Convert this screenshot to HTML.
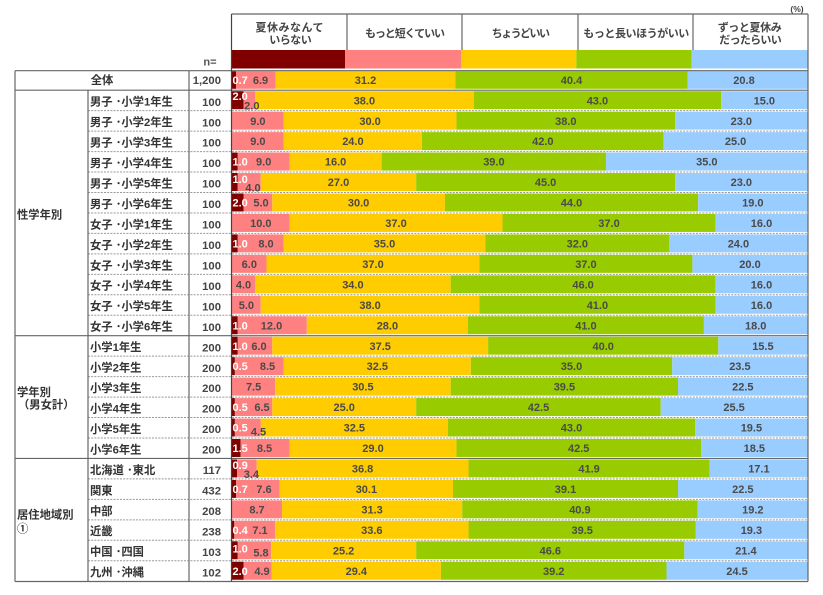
<!DOCTYPE html>
<html><head><meta charset="utf-8"><style>
html,body{margin:0;padding:0;background:#fff;}
body{width:823px;height:595px;overflow:hidden;}
svg{display:block;}
.t{font-family:"Liberation Sans","Noto Sans CJK JP",sans-serif;font-weight:bold;}
.h{font-size:11px;fill:#444;text-anchor:middle;}
.l{font-size:11.3px;fill:#333;}
.n{font-size:11.3px;fill:#444;text-anchor:end;}
.v{font-size:11px;fill:#4a4a4a;text-anchor:middle;}
.w{font-size:11px;fill:#fff;text-anchor:start;}
.d{fill:#800000}.p{fill:#ff8080}.y{fill:#ffcc00}.g{fill:#99cc00}.b{fill:#99ccff}
.s{stroke:#666;stroke-width:1.2;fill:none}
.dt{stroke:#999;stroke-width:1;stroke-dasharray:2 1.2;fill:none}
</style></head><body>
<svg width="823" height="595" viewBox="0 0 823 595" xmlns="http://www.w3.org/2000/svg">
<rect x="0" y="0" width="823" height="595" fill="#fff"/>
<!-- header -->
<text class="t" x="797" y="12" style="font-size:8.5px;fill:#444;text-anchor:middle">(%)</text>
<rect class="d" x="232" y="50" width="113" height="18.5"/>
<rect class="p" x="345" y="50" width="116" height="18.5"/>
<rect class="y" x="461" y="50" width="115.3" height="18.5"/>
<rect class="g" x="576.3" y="50" width="115.4" height="18.5"/>
<rect class="b" x="691.7" y="50" width="115.8" height="18.5"/>
<g class="t h">
<text x="289.5" y="31" textLength="68" lengthAdjust="spacing">夏休みなんて</text>
<text x="290.5" y="43.4" textLength="42.4" lengthAdjust="spacing">いらない</text>
<text x="405" y="37" textLength="80" lengthAdjust="spacing">もっと短くていい</text>
<text x="520.8" y="37" textLength="58.3" lengthAdjust="spacing">ちょうどいい</text>
<text x="636.3" y="37" textLength="106" lengthAdjust="spacing">もっと長いほうがいい</text>
<text x="749.7" y="31" textLength="64" lengthAdjust="spacing">ずっと夏休み</text>
<text x="750.5" y="43.4" textLength="62.4" lengthAdjust="spacing">だったらいい</text>
</g>
<text class="t" x="210" y="65.5" style="font-size:11px;fill:#555;text-anchor:middle">n=</text>

<!-- bars -->
<g transform="translate(0,70.7)">
<rect class="d" x="232" y="0.5" width="4.03" height="17.6"/><rect class="p" x="236.03" y="0.5" width="39.71" height="17.6"/><rect class="y" x="275.74" y="0.5" width="179.56" height="17.6"/><rect class="g" x="455.3" y="0.5" width="232.5" height="17.6"/><rect class="b" x="687.8" y="0.5" width="119.7" height="17.6"/>
<text class="t w" x="232.5" y="13.4">0.7</text><text class="t v" x="260.5" y="13.4">6.9</text><text class="t v" x="365.5" y="13.4">31.2</text><text class="t v" x="571.5" y="13.4">40.4</text><text class="t v" x="744" y="13.4">20.8</text>
</g>
<g transform="translate(0,90.7)">
<rect class="d" x="232" y="0.5" width="11.51" height="18"/><rect class="p" x="243.51" y="0.5" width="11.51" height="18"/><rect class="y" x="255.02" y="0.5" width="218.69" height="18"/><rect class="g" x="473.71" y="0.5" width="247.47" height="18"/><rect class="b" x="721.18" y="0.5" width="86.32" height="18"/>
<text class="t w" x="232.5" y="9.3">2.0</text><text class="t v" x="251.8" y="18.8">2.0</text><text class="t v" x="364.4" y="13.6">38.0</text><text class="t v" x="597.4" y="13.6">43.0</text><text class="t v" x="764.3" y="13.6">15.0</text>
</g>
<g transform="translate(0,111.16)">
<rect class="p" x="232" y="0.5" width="51.8" height="18"/><rect class="y" x="283.8" y="0.5" width="172.65" height="18"/><rect class="g" x="456.45" y="0.5" width="218.69" height="18"/><rect class="b" x="675.14" y="0.5" width="132.36" height="18"/>
<text class="t v" x="257.9" y="13.6">9.0</text><text class="t v" x="370.1" y="13.6">30.0</text><text class="t v" x="565.8" y="13.6">38.0</text><text class="t v" x="741.3" y="13.6">23.0</text>
</g>
<g transform="translate(0,131.62)">
<rect class="p" x="232" y="0.5" width="51.8" height="18"/><rect class="y" x="283.8" y="0.5" width="138.12" height="18"/><rect class="g" x="421.92" y="0.5" width="241.71" height="18"/><rect class="b" x="663.63" y="0.5" width="143.87" height="18"/>
<text class="t v" x="257.9" y="13.6">9.0</text><text class="t v" x="352.9" y="13.6">24.0</text><text class="t v" x="542.8" y="13.6">42.0</text><text class="t v" x="735.6" y="13.6">25.0</text>
</g>
<g transform="translate(0,152.07)">
<rect class="d" x="232" y="0.5" width="5.76" height="18"/><rect class="p" x="237.76" y="0.5" width="51.8" height="18"/><rect class="y" x="289.55" y="0.5" width="92.08" height="18"/><rect class="g" x="381.63" y="0.5" width="224.45" height="18"/><rect class="b" x="606.08" y="0.5" width="201.42" height="18"/>
<text class="t w" x="232.5" y="13.6">1.0</text><text class="t v" x="263.7" y="13.6">9.0</text><text class="t v" x="335.6" y="13.6">16.0</text><text class="t v" x="493.9" y="13.6">39.0</text><text class="t v" x="706.8" y="13.6">35.0</text>
</g>
<g transform="translate(0,172.53)">
<rect class="d" x="232" y="0.5" width="5.76" height="18"/><rect class="p" x="237.76" y="0.5" width="23.02" height="18"/><rect class="y" x="260.78" y="0.5" width="155.39" height="18"/><rect class="g" x="416.16" y="0.5" width="258.98" height="18"/><rect class="b" x="675.14" y="0.5" width="132.36" height="18"/>
<text class="t w" x="232.5" y="10.3">1.0</text><text class="t v" x="253" y="19">4.0</text><text class="t v" x="338.5" y="13.6">27.0</text><text class="t v" x="545.6" y="13.6">45.0</text><text class="t v" x="741.3" y="13.6">23.0</text>
</g>
<g transform="translate(0,192.99)">
<rect class="d" x="232" y="0.5" width="11.51" height="18"/><rect class="p" x="243.51" y="0.5" width="28.78" height="18"/><rect class="y" x="272.29" y="0.5" width="172.65" height="18"/><rect class="g" x="444.94" y="0.5" width="253.22" height="18"/><rect class="b" x="698.16" y="0.5" width="109.34" height="18"/>
<text class="t w" x="232.5" y="13.6">2.0</text><text class="t v" x="261" y="13.6">5.0</text><text class="t v" x="358.6" y="13.6">30.0</text><text class="t v" x="571.5" y="13.6">44.0</text><text class="t v" x="752.8" y="13.6">19.0</text>
</g>
<g transform="translate(0,213.45)">
<rect class="p" x="232" y="0.5" width="57.55" height="18"/><rect class="y" x="289.55" y="0.5" width="212.94" height="18"/><rect class="g" x="502.49" y="0.5" width="212.94" height="18"/><rect class="b" x="715.43" y="0.5" width="92.07" height="18"/>
<text class="t v" x="260.8" y="13.6">10.0</text><text class="t v" x="396" y="13.6">37.0</text><text class="t v" x="609" y="13.6">37.0</text><text class="t v" x="761.5" y="13.6">16.0</text>
</g>
<g transform="translate(0,233.91)">
<rect class="d" x="232" y="0.5" width="5.76" height="18"/><rect class="p" x="237.76" y="0.5" width="46.04" height="18"/><rect class="y" x="283.8" y="0.5" width="201.43" height="18"/><rect class="g" x="485.23" y="0.5" width="184.16" height="18"/><rect class="b" x="669.39" y="0.5" width="138.11" height="18"/>
<text class="t w" x="232.5" y="13.6">1.0</text><text class="t v" x="266" y="13.6">8.0</text><text class="t v" x="384.5" y="13.6">35.0</text><text class="t v" x="577.3" y="13.6">32.0</text><text class="t v" x="738.4" y="13.6">24.0</text>
</g>
<g transform="translate(0,254.36)">
<rect class="p" x="232" y="0.5" width="34.53" height="18"/><rect class="y" x="266.53" y="0.5" width="212.94" height="18"/><rect class="g" x="479.47" y="0.5" width="212.94" height="18"/><rect class="b" x="692.41" y="0.5" width="115.09" height="18"/>
<text class="t v" x="249.3" y="13.6">6.0</text><text class="t v" x="373" y="13.6">37.0</text><text class="t v" x="585.9" y="13.6">37.0</text><text class="t v" x="750" y="13.6">20.0</text>
</g>
<g transform="translate(0,274.82)">
<rect class="p" x="232" y="0.5" width="23.02" height="18"/><rect class="y" x="255.02" y="0.5" width="195.67" height="18"/><rect class="g" x="450.69" y="0.5" width="264.73" height="18"/><rect class="b" x="715.42" y="0.5" width="92.08" height="18"/>
<text class="t v" x="243.5" y="13.6">4.0</text><text class="t v" x="352.9" y="13.6">34.0</text><text class="t v" x="583.1" y="13.6">46.0</text><text class="t v" x="761.5" y="13.6">16.0</text>
</g>
<g transform="translate(0,295.28)">
<rect class="p" x="232" y="0.5" width="28.78" height="18"/><rect class="y" x="260.78" y="0.5" width="218.69" height="18"/><rect class="g" x="479.47" y="0.5" width="235.96" height="18"/><rect class="b" x="715.43" y="0.5" width="92.07" height="18"/>
<text class="t v" x="246.4" y="13.6">5.0</text><text class="t v" x="370.1" y="13.6">38.0</text><text class="t v" x="597.4" y="13.6">41.0</text><text class="t v" x="761.5" y="13.6">16.0</text>
</g>
<g transform="translate(0,315.74)">
<rect class="d" x="232" y="0.5" width="5.76" height="18"/><rect class="p" x="237.76" y="0.5" width="69.06" height="18"/><rect class="y" x="306.82" y="0.5" width="161.14" height="18"/><rect class="g" x="467.96" y="0.5" width="235.96" height="18"/><rect class="b" x="703.92" y="0.5" width="103.58" height="18"/>
<text class="t w" x="232.5" y="13.6">1.0</text><text class="t v" x="271.5" y="13.6">12.0</text><text class="t v" x="387.4" y="13.6">28.0</text><text class="t v" x="585.9" y="13.6">41.0</text><text class="t v" x="755.7" y="13.6">18.0</text>
</g>
<g transform="translate(0,336.2)">
<rect class="d" x="232" y="0.5" width="5.76" height="18"/><rect class="p" x="237.76" y="0.5" width="34.53" height="18"/><rect class="y" x="272.29" y="0.5" width="215.81" height="18"/><rect class="g" x="488.1" y="0.5" width="230.2" height="18"/><rect class="b" x="718.3" y="0.5" width="89.2" height="18"/>
<text class="t w" x="232.5" y="13.6">1.0</text><text class="t v" x="259" y="13.6">6.0</text><text class="t v" x="380.2" y="13.6">37.5</text><text class="t v" x="603.2" y="13.6">40.0</text><text class="t v" x="762.9" y="13.6">15.5</text>
</g>
<g transform="translate(0,356.65)">
<rect class="d" x="232" y="0.5" width="2.88" height="18"/><rect class="p" x="234.88" y="0.5" width="48.92" height="18"/><rect class="y" x="283.8" y="0.5" width="187.04" height="18"/><rect class="g" x="470.84" y="0.5" width="201.43" height="18"/><rect class="b" x="672.27" y="0.5" width="135.23" height="18"/>
<text class="t w" x="232.5" y="13.6">0.5</text><text class="t v" x="267.5" y="13.6">8.5</text><text class="t v" x="377.3" y="13.6">32.5</text><text class="t v" x="571.5" y="13.6">35.0</text><text class="t v" x="739.9" y="13.6">23.5</text>
</g>
<g transform="translate(0,377.11)">
<rect class="p" x="232" y="0.5" width="43.16" height="18"/><rect class="y" x="275.16" y="0.5" width="175.53" height="18"/><rect class="g" x="450.69" y="0.5" width="227.32" height="18"/><rect class="b" x="678.01" y="0.5" width="129.49" height="18"/>
<text class="t v" x="253.6" y="13.6">7.5</text><text class="t v" x="362.9" y="13.6">30.5</text><text class="t v" x="564.4" y="13.6">39.5</text><text class="t v" x="742.8" y="13.6">22.5</text>
</g>
<g transform="translate(0,397.57)">
<rect class="d" x="232" y="0.5" width="2.88" height="18"/><rect class="p" x="234.88" y="0.5" width="37.41" height="18"/><rect class="y" x="272.29" y="0.5" width="143.88" height="18"/><rect class="g" x="416.17" y="0.5" width="244.59" height="18"/><rect class="b" x="660.76" y="0.5" width="146.74" height="18"/>
<text class="t w" x="232.5" y="13.6">0.5</text><text class="t v" x="262" y="13.6">6.5</text><text class="t v" x="344.2" y="13.6">25.0</text><text class="t v" x="538.5" y="13.6">42.5</text><text class="t v" x="734.1" y="13.6">25.5</text>
</g>
<g transform="translate(0,418.03)">
<rect class="d" x="232" y="0.5" width="2.88" height="18"/><rect class="p" x="234.88" y="0.5" width="25.9" height="18"/><rect class="y" x="260.78" y="0.5" width="187.04" height="18"/><rect class="g" x="447.82" y="0.5" width="247.47" height="18"/><rect class="b" x="695.29" y="0.5" width="112.21" height="18"/>
<text class="t w" x="232.5" y="13.6">0.5</text><text class="t v" x="258.5" y="17.6">4.5</text><text class="t v" x="354.3" y="13.6">32.5</text><text class="t v" x="571.5" y="13.6">43.0</text><text class="t v" x="751.4" y="13.6">19.5</text>
</g>
<g transform="translate(0,438.49)">
<rect class="d" x="232" y="0.5" width="8.63" height="18"/><rect class="p" x="240.63" y="0.5" width="48.92" height="18"/><rect class="y" x="289.55" y="0.5" width="166.9" height="18"/><rect class="g" x="456.45" y="0.5" width="244.59" height="18"/><rect class="b" x="701.04" y="0.5" width="106.46" height="18"/>
<text class="t w" x="232.5" y="13.6">1.5</text><text class="t v" x="264.5" y="13.6">8.5</text><text class="t v" x="373" y="13.6">29.0</text><text class="t v" x="578.7" y="13.6">42.5</text><text class="t v" x="754.3" y="13.6">18.5</text>
</g>
<g transform="translate(0,458.94)">
<rect class="d" x="232" y="0.5" width="5.18" height="18"/><rect class="p" x="237.18" y="0.5" width="19.57" height="18"/><rect class="y" x="256.75" y="0.5" width="211.78" height="18"/><rect class="g" x="468.53" y="0.5" width="241.13" height="18"/><rect class="b" x="709.66" y="0.5" width="97.84" height="18"/>
<text class="t w" x="232.5" y="10.3">0.9</text><text class="t v" x="251.4" y="19.2">3.4</text><text class="t v" x="362.6" y="13.6">36.8</text><text class="t v" x="589.1" y="13.6">41.9</text><text class="t v" x="758.9" y="13.6">17.1</text>
</g>
<g transform="translate(0,479.4)">
<rect class="d" x="232" y="0.5" width="4.03" height="18"/><rect class="p" x="236.03" y="0.5" width="43.74" height="18"/><rect class="y" x="279.77" y="0.5" width="173.23" height="18"/><rect class="g" x="453" y="0.5" width="225.02" height="18"/><rect class="b" x="678.02" y="0.5" width="129.48" height="18"/>
<text class="t w" x="232.5" y="13.6">0.7</text><text class="t v" x="264" y="13.6">7.6</text><text class="t v" x="366.4" y="13.6">30.1</text><text class="t v" x="565.5" y="13.6">39.1</text><text class="t v" x="742.8" y="13.6">22.5</text>
</g>
<g transform="translate(0,499.86)">
<rect class="p" x="232" y="0.5" width="50.07" height="18"/><rect class="y" x="282.07" y="0.5" width="180.13" height="18"/><rect class="g" x="462.2" y="0.5" width="235.38" height="18"/><rect class="b" x="697.58" y="0.5" width="109.92" height="18"/>
<text class="t v" x="257" y="13.6">8.7</text><text class="t v" x="372.1" y="13.6">31.3</text><text class="t v" x="579.9" y="13.6">40.9</text><text class="t v" x="752.8" y="13.6">19.2</text>
</g>
<g transform="translate(0,520.32)">
<rect class="d" x="232" y="0.5" width="2.3" height="18"/><rect class="p" x="234.3" y="0.5" width="40.86" height="18"/><rect class="y" x="275.16" y="0.5" width="193.37" height="18"/><rect class="g" x="468.53" y="0.5" width="227.32" height="18"/><rect class="b" x="695.85" y="0.5" width="111.65" height="18"/>
<text class="t w" x="232.5" y="13.6">0.4</text><text class="t v" x="260" y="13.6">7.1</text><text class="t v" x="371.8" y="13.6">33.6</text><text class="t v" x="582.2" y="13.6">39.5</text><text class="t v" x="751.4" y="13.6">19.3</text>
</g>
<g transform="translate(0,540.78)">
<rect class="d" x="232" y="0.5" width="5.76" height="18"/><rect class="p" x="237.76" y="0.5" width="33.38" height="18"/><rect class="y" x="271.14" y="0.5" width="145.03" height="18"/><rect class="g" x="416.17" y="0.5" width="268.18" height="18"/><rect class="b" x="684.35" y="0.5" width="123.15" height="18"/>
<text class="t w" x="232.5" y="11.9">1.0</text><text class="t v" x="261" y="15.6">5.8</text><text class="t v" x="343.6" y="13.6">25.2</text><text class="t v" x="550.3" y="13.6">46.6</text><text class="t v" x="745.9" y="13.6">21.4</text>
</g>
<g transform="translate(0,561.23)">
<rect class="d" x="232" y="0.5" width="11.51" height="18"/><rect class="p" x="243.51" y="0.5" width="28.2" height="18"/><rect class="y" x="271.71" y="0.5" width="169.2" height="18"/><rect class="g" x="440.91" y="0.5" width="225.6" height="18"/><rect class="b" x="666.51" y="0.5" width="140.99" height="18"/>
<text class="t w" x="232.5" y="13.6">2.0</text><text class="t v" x="262" y="13.6">4.9</text><text class="t v" x="356.3" y="13.6">29.4</text><text class="t v" x="553.7" y="13.6">39.2</text><text class="t v" x="737" y="13.6">24.5</text>
</g>

<!-- dotted separators -->
<g class="dt">
<line x1="88" x2="808" y1="110.66" y2="110.66"/>
<line x1="88" x2="808" y1="131.12" y2="131.12"/>
<line x1="88" x2="808" y1="151.57" y2="151.57"/>
<line x1="88" x2="808" y1="172.03" y2="172.03"/>
<line x1="88" x2="808" y1="192.49" y2="192.49"/>
<line x1="88" x2="808" y1="212.95" y2="212.95"/>
<line x1="88" x2="808" y1="233.41" y2="233.41"/>
<line x1="88" x2="808" y1="253.86" y2="253.86"/>
<line x1="88" x2="808" y1="274.32" y2="274.32"/>
<line x1="88" x2="808" y1="294.78" y2="294.78"/>
<line x1="88" x2="808" y1="315.24" y2="315.24"/>
<line x1="88" x2="808" y1="356.15" y2="356.15"/>
<line x1="88" x2="808" y1="376.61" y2="376.61"/>
<line x1="88" x2="808" y1="397.07" y2="397.07"/>
<line x1="88" x2="808" y1="417.53" y2="417.53"/>
<line x1="88" x2="808" y1="437.99" y2="437.99"/>
<line x1="88" x2="808" y1="478.9" y2="478.9"/>
<line x1="88" x2="808" y1="499.36" y2="499.36"/>
<line x1="88" x2="808" y1="519.82" y2="519.82"/>
<line x1="88" x2="808" y1="540.28" y2="540.28"/>
<line x1="88" x2="808" y1="560.73" y2="560.73"/>
</g>
<!-- solid lines -->
<g class="s">
<line x1="231.5" x2="808" y1="14" y2="14"/>
<line x1="347" x2="347" y1="14" y2="50"/>
<line x1="462" x2="462" y1="14" y2="50"/>
<line x1="578" x2="578" y1="14" y2="50"/>
<line x1="693" x2="693" y1="14" y2="50"/>
<line x1="15" x2="808" y1="70.7" y2="70.7"/>
<line x1="15" x2="808" y1="90.2" y2="90.2"/>
<line x1="15" x2="808" y1="335.7" y2="335.7"/>
<line x1="15" x2="808" y1="458.44" y2="458.44"/>
<line x1="15" x2="808" y1="581.5" y2="581.5"/>
<line x1="15" x2="15" y1="70.7" y2="581.5"/>
<line x1="88" x2="88" y1="90.2" y2="581.5"/>
<line x1="189" x2="189" y1="70.7" y2="581.5"/>
<line x1="808" x2="808" y1="14" y2="581.5"/>
</g>
<line x1="231.5" x2="231.5" y1="14" y2="581.5" stroke="#444" stroke-width="1.2"/>

<!-- left labels -->
<g class="t l">
<text x="102" y="83.8" text-anchor="middle">全体</text>
<text x="17" y="218.3">性学年別</text>
<text x="17" y="396">学年別</text>
<text x="18" y="408.3">（男女計）</text>
<text x="17" y="518.3">居住地域別</text>
<text x="17" y="532.6">①</text>
<text x="90" y="105.6">男子 ･小学1年生</text>
<text x="90" y="126.06">男子 ･小学2年生</text>
<text x="90" y="146.52">男子 ･小学3年生</text>
<text x="90" y="166.97">男子 ･小学4年生</text>
<text x="90" y="187.43">男子 ･小学5年生</text>
<text x="90" y="207.89">男子 ･小学6年生</text>
<text x="90" y="228.35">女子 ･小学1年生</text>
<text x="90" y="248.81">女子 ･小学2年生</text>
<text x="90" y="269.26">女子 ･小学3年生</text>
<text x="90" y="289.72">女子 ･小学4年生</text>
<text x="90" y="310.18">女子 ･小学5年生</text>
<text x="90" y="330.64">女子 ･小学6年生</text>
<text x="90" y="351.1">小学1年生</text>
<text x="90" y="371.55">小学2年生</text>
<text x="90" y="392.01">小学3年生</text>
<text x="90" y="412.47">小学4年生</text>
<text x="90" y="432.93">小学5年生</text>
<text x="90" y="453.39">小学6年生</text>
<text x="90" y="473.84">北海道 ･東北</text>
<text x="90" y="494.3">関東</text>
<text x="90" y="514.76">中部</text>
<text x="90" y="535.22">近畿</text>
<text x="90" y="555.68">中国 ･四国</text>
<text x="90" y="576.13">九州 ･沖縄</text>
</g>
<g class="t n">
<text x="221" y="84">1,200</text>
<text x="221" y="105.8">100</text>
<text x="221" y="126.26">100</text>
<text x="221" y="146.72">100</text>
<text x="221" y="167.17">100</text>
<text x="221" y="187.63">100</text>
<text x="221" y="208.09">100</text>
<text x="221" y="228.55">100</text>
<text x="221" y="249.01">100</text>
<text x="221" y="269.46">100</text>
<text x="221" y="289.92">100</text>
<text x="221" y="310.38">100</text>
<text x="221" y="330.84">100</text>
<text x="221" y="351.3">200</text>
<text x="221" y="371.75">200</text>
<text x="221" y="392.21">200</text>
<text x="221" y="412.67">200</text>
<text x="221" y="433.13">200</text>
<text x="221" y="453.59">200</text>
<text x="221" y="474.04">117</text>
<text x="221" y="494.5">432</text>
<text x="221" y="514.96">208</text>
<text x="221" y="535.42">238</text>
<text x="221" y="555.88">103</text>
<text x="221" y="576.33">102</text>
</g>
</svg>
</body></html>
